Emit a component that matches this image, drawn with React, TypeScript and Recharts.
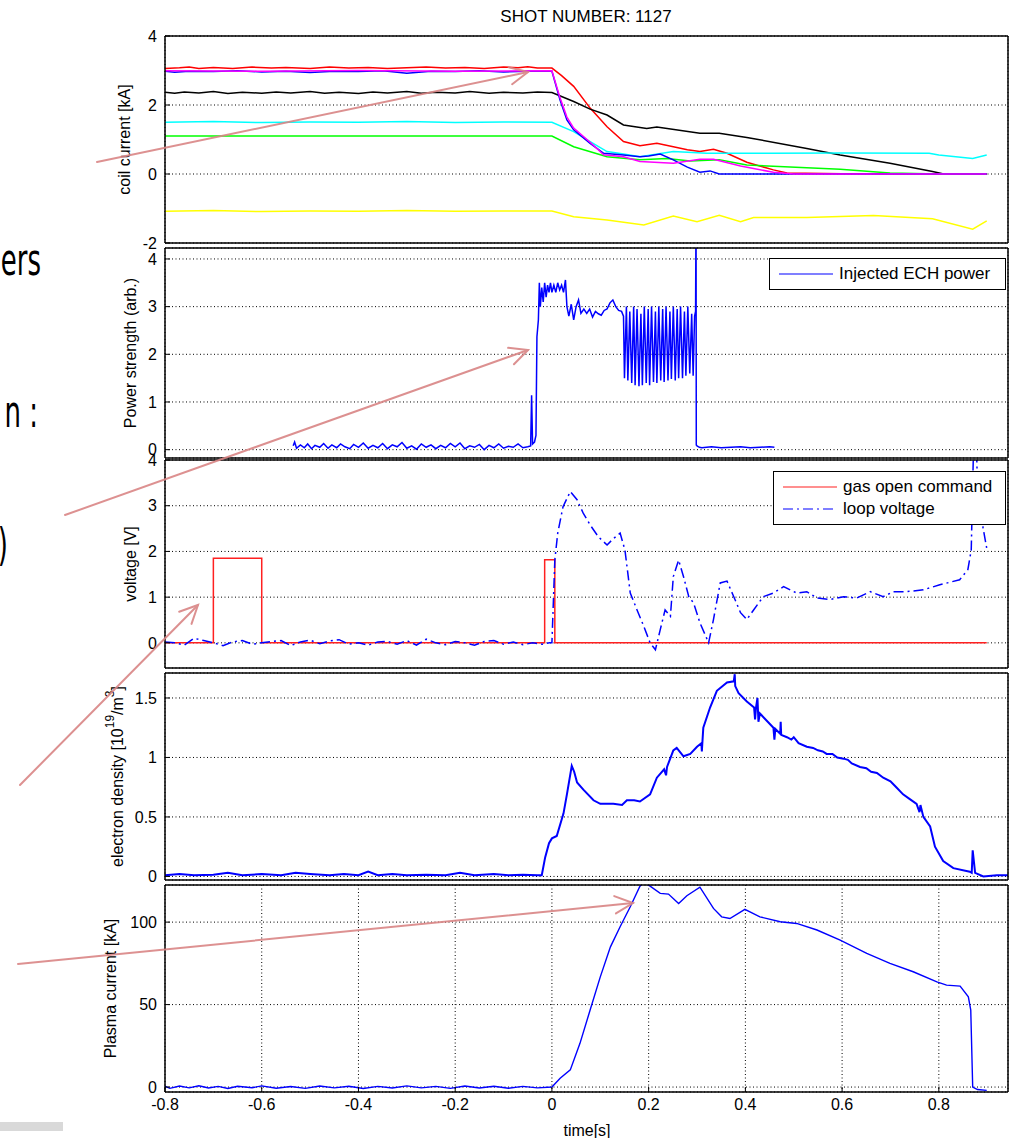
import React from 'react';
import { LineChart, Line, XAxis, YAxis, CartesianGrid, Legend } from 'recharts';

type Pt = [number, number];

// shared time axis
const TIME_TICKS = [-0.8, -0.6, -0.4, -0.2, 0, 0.2, 0.4, 0.6, 0.8];
const TIME_DOMAIN = [-0.8, 0.943];

const COIL_TICKS = [-2, 0, 2, 4];
const POWER_TICKS = [0, 1, 2, 3, 4];
const VOLT_TICKS = [0, 1, 2, 3, 4];
const DENSITY_TICKS = [0, 0.5, 1, 1.5];
const IP_TICKS = [0, 50, 100];

// coil currents [s, kA]
const COIL_RED: Pt[] = [
  [-0.8, 3.06], [-0.77, 3.08], [-0.75, 3.1], [-0.73, 3.06], [-0.7, 3.09], [-0.66, 3.06], [-0.62, 3.1],
  [-0.58, 3.07], [-0.55, 3.09], [-0.5, 3.06], [-0.46, 3.1], [-0.42, 3.07], [-0.38, 3.09], [-0.34, 3.06],
  [-0.3, 3.08], [-0.26, 3.1], [-0.22, 3.07], [-0.18, 3.09], [-0.14, 3.06], [-0.1, 3.1], [-0.07, 3.08],
  [-0.05, 3.11], [-0.03, 3.07], [0, 3.07], [0.02, 2.85], [0.045, 2.54], [0.079, 1.91], [0.114, 1.37],
  [0.148, 0.94], [0.182, 0.82], [0.217, 0.89], [0.251, 0.79], [0.28, 0.7], [0.306, 0.65], [0.334, 0.72],
  [0.362, 0.6], [0.403, 0.34], [0.458, 0.12], [0.486, 0.03], [0.6, 0.01], [0.75, 0], [0.899, 0],
];
const COIL_BLACK: Pt[] = [
  [-0.8, 2.37], [-0.78, 2.34], [-0.76, 2.38], [-0.73, 2.35], [-0.7, 2.39], [-0.67, 2.33], [-0.64, 2.37],
  [-0.6, 2.34], [-0.57, 2.38], [-0.54, 2.35], [-0.5, 2.39], [-0.47, 2.34], [-0.44, 2.37], [-0.4, 2.33],
  [-0.37, 2.38], [-0.34, 2.35], [-0.3, 2.39], [-0.27, 2.34], [-0.24, 2.37], [-0.2, 2.35], [-0.17, 2.39],
  [-0.13, 2.34], [-0.1, 2.37], [-0.06, 2.35], [-0.03, 2.38], [0, 2.36], [0.045, 2.1], [0.079, 1.88],
  [0.114, 1.71], [0.148, 1.42], [0.196, 1.32], [0.217, 1.36], [0.306, 1.18], [0.346, 1.18], [0.403, 1.06],
  [0.527, 0.74], [0.596, 0.55], [0.699, 0.31], [0.787, 0.07], [0.81, 0], [0.899, 0],
];
const COIL_CYAN: Pt[] = [
  [-0.8, 1.5], [-0.7, 1.52], [-0.6, 1.49], [-0.5, 1.51], [-0.4, 1.5], [-0.3, 1.52], [-0.2, 1.49],
  [-0.1, 1.51], [0, 1.5], [0.045, 1.23], [0.079, 0.94], [0.114, 0.65], [0.148, 0.58], [0.182, 0.5],
  [0.251, 0.65], [0.32, 0.6], [0.45, 0.6], [0.6, 0.61], [0.78, 0.6], [0.8, 0.55], [0.87, 0.45], [0.899, 0.55],
];
const COIL_GREEN: Pt[] = [
  [-0.8, 1.1], [0, 1.1], [0.045, 0.79], [0.114, 0.5], [0.182, 0.41], [0.238, 0.45], [0.286, 0.38],
  [0.346, 0.41], [0.403, 0.26], [0.527, 0.18], [0.596, 0.14], [0.699, 0.03], [0.8, 0], [0.899, 0],
];
const COIL_YELLOW: Pt[] = [
  [-0.8, -1.08], [-0.7, -1.06], [-0.6, -1.09], [-0.5, -1.07], [-0.4, -1.08], [-0.3, -1.06], [-0.2, -1.08],
  [-0.1, -1.07], [0, -1.07], [0.045, -1.24], [0.114, -1.33], [0.19, -1.48], [0.251, -1.22], [0.3, -1.38],
  [0.346, -1.2], [0.39, -1.38], [0.417, -1.26], [0.527, -1.26], [0.665, -1.2], [0.787, -1.3], [0.87, -1.6],
  [0.899, -1.36],
];
const COIL_BLUE: Pt[] = [
  [-0.8, 2.98], [-0.78, 2.95], [-0.75, 2.98], [-0.7, 2.97], [-0.65, 2.99], [-0.6, 2.96], [-0.55, 2.98],
  [-0.5, 2.94], [-0.45, 2.98], [-0.4, 2.97], [-0.35, 2.99], [-0.3, 2.92], [-0.25, 2.98], [-0.2, 2.97],
  [-0.15, 2.99], [-0.1, 2.96], [-0.05, 2.98], [0, 2.98], [0.017, 2.14], [0.031, 1.57], [0.045, 1.28],
  [0.079, 0.89], [0.107, 0.6], [0.148, 0.55], [0.182, 0.5], [0.2, 0.52], [0.224, 0.58], [0.251, 0.41],
  [0.28, 0.2], [0.306, 0.05], [0.327, 0.09], [0.346, 0], [0.5, 0], [0.7, 0], [0.899, 0],
];
const COIL_MAGENTA: Pt[] = [
  [-0.8, 2.99], [-0.6, 2.98], [-0.4, 3.0], [-0.2, 2.98], [0, 2.99], [0.017, 2.2], [0.031, 1.65],
  [0.045, 1.33], [0.079, 0.92], [0.107, 0.56], [0.148, 0.5], [0.182, 0.36], [0.251, 0.31], [0.306, 0.43],
  [0.334, 0.43], [0.39, 0.23], [0.458, 0.05], [0.5, 0], [0.7, 0], [0.899, 0],
];

// injected ECH power [s, arb.]
const ECH_POWER: Pt[] = [
  [-0.535, 0.08], [-0.532, 0.16], [-0.528, 0.03], [-0.52, 0.1], [-0.512, 0.04], [-0.505, 0.12], [-0.497, 0.02],
  [-0.49, 0.09], [-0.48, 0.05], [-0.472, 0.13], [-0.463, 0.03], [-0.455, 0.1], [-0.445, 0.04], [-0.437, 0.12],
  [-0.428, 0.06], [-0.418, 0.02], [-0.41, 0.11], [-0.4, 0.05], [-0.39, 0.14], [-0.38, 0.03], [-0.37, 0.09],
  [-0.36, 0.04], [-0.35, 0.13], [-0.34, 0.02], [-0.33, 0.1], [-0.32, 0.06], [-0.31, 0.15], [-0.3, 0.03],
  [-0.29, 0.08], [-0.28, 0.01], [-0.27, 0.12], [-0.26, 0.05], [-0.25, 0.1], [-0.24, 0.02], [-0.23, 0.09],
  [-0.22, 0.04], [-0.21, 0.13], [-0.2, 0.06], [-0.19, 0.14], [-0.18, 0.02], [-0.17, 0.08], [-0.16, 0.05],
  [-0.15, 0.11], [-0.14, 0.0], [-0.13, 0.09], [-0.12, 0.04], [-0.11, 0.12], [-0.1, 0.03], [-0.09, 0.07],
  [-0.08, 0.05], [-0.07, 0.12], [-0.06, 0.04], [-0.05, 0.06], [-0.044, 0.08], [-0.042, 1.14], [-0.04, 0.12],
  [-0.036, 0.16], [-0.033, 0.3], [-0.031, 2.37], [-0.028, 2.72], [-0.026, 3.5], [-0.024, 3.0], [-0.021, 3.4],
  [-0.018, 3.1], [-0.015, 3.5], [-0.012, 3.2], [-0.009, 3.45], [-0.006, 3.3], [-0.003, 3.5], [0.0, 3.3],
  [0.004, 3.45], [0.008, 3.3], [0.012, 3.5], [0.016, 3.35], [0.02, 3.45], [0.024, 3.3], [0.028, 3.56],
  [0.031, 3.0], [0.035, 2.8], [0.04, 3.05], [0.045, 2.72], [0.05, 3.0], [0.055, 3.14], [0.06, 2.86],
  [0.066, 2.95], [0.072, 2.86], [0.078, 2.95], [0.084, 2.78], [0.09, 2.9], [0.096, 2.85], [0.102, 2.82],
  [0.108, 2.92], [0.114, 2.95], [0.12, 3.08], [0.126, 3.14], [0.132, 3.0], [0.138, 2.92], [0.144, 2.9],
  [0.148, 2.8], [0.15, 1.5], [0.154, 3.0], [0.157, 1.45], [0.161, 2.9], [0.165, 1.4], [0.169, 3.0],
  [0.172, 1.35], [0.176, 2.95], [0.18, 1.33], [0.184, 2.85], [0.187, 1.35], [0.191, 3.0], [0.195, 1.4],
  [0.199, 2.95], [0.202, 1.35], [0.206, 3.0], [0.21, 1.42], [0.214, 2.9], [0.217, 1.4], [0.221, 3.0],
  [0.225, 1.45], [0.229, 2.95], [0.232, 1.42], [0.236, 3.0], [0.24, 1.45], [0.244, 2.9], [0.247, 1.48],
  [0.251, 3.0], [0.255, 1.45], [0.259, 2.95], [0.262, 1.5], [0.266, 3.0], [0.27, 1.5], [0.274, 2.9],
  [0.277, 1.55], [0.281, 3.0], [0.285, 1.6], [0.289, 2.85], [0.292, 1.55], [0.295, 2.8], [0.297, 2.9],
  [0.298, 5.0], [0.2985, 0.1], [0.3, 0.08], [0.305, 0.05], [0.31, 0.04], [0.33, 0.06], [0.35, 0.04],
  [0.37, 0.05], [0.39, 0.06], [0.41, 0.04], [0.43, 0.05], [0.45, 0.06], [0.46, 0.05],
];

// gas puff command and loop voltage [s, V]
const GAS_CMD: Pt[] = [
  [-0.8, 0], [-0.7, 0], [-0.7, 1.85], [-0.6, 1.85], [-0.6, 0], [-0.015, 0], [-0.015, 1.82], [0.006, 1.82],
  [0.006, 0], [0.899, 0],
];
const LOOP_V: Pt[] = [
  [-0.8, 0.02], [-0.78, 0.0], [-0.76, -0.05], [-0.74, 0.1], [-0.72, 0.05], [-0.7, 0.0], [-0.68, -0.06],
  [-0.66, 0.02], [-0.64, 0.05], [-0.62, -0.03], [-0.6, 0.0], [-0.58, 0.03], [-0.56, 0.05], [-0.54, -0.06],
  [-0.52, 0.02], [-0.5, 0.06], [-0.48, -0.02], [-0.46, 0.04], [-0.44, 0.07], [-0.42, -0.03], [-0.4, 0.0],
  [-0.38, -0.05], [-0.36, 0.02], [-0.34, 0.03], [-0.32, -0.03], [-0.3, 0.05], [-0.28, -0.05], [-0.26, 0.08],
  [-0.24, 0.0], [-0.22, -0.04], [-0.2, 0.03], [-0.18, 0.0], [-0.16, -0.05], [-0.14, 0.03], [-0.12, 0.05],
  [-0.1, -0.03], [-0.08, 0.02], [-0.06, -0.04], [-0.04, 0.0], [-0.02, -0.03], [-0.005, 0.0], [0.0, 0.0],
  [0.006, 1.81], [0.012, 2.4], [0.023, 2.98], [0.038, 3.31], [0.052, 3.13], [0.065, 2.83], [0.079, 2.58],
  [0.096, 2.32], [0.114, 2.14], [0.127, 2.28], [0.141, 2.4], [0.151, 2.03], [0.162, 1.09], [0.176, 0.72],
  [0.19, 0.36], [0.203, 0.0], [0.214, -0.15], [0.224, 0.29], [0.234, 0.72], [0.245, 0.58], [0.251, 1.45],
  [0.262, 1.81], [0.272, 1.45], [0.283, 1.01], [0.293, 0.87], [0.306, 0.44], [0.324, 0.0], [0.334, 0.51],
  [0.348, 1.31], [0.362, 1.35], [0.376, 1.01], [0.39, 0.66], [0.403, 0.51], [0.417, 0.72], [0.437, 1.01],
  [0.458, 1.09], [0.479, 1.23], [0.506, 1.09], [0.527, 1.12], [0.548, 0.98], [0.575, 0.95], [0.603, 1.01],
  [0.63, 0.98], [0.658, 1.12], [0.685, 1.01], [0.706, 1.12], [0.733, 1.12], [0.768, 1.16], [0.802, 1.27],
  [0.843, 1.38], [0.86, 1.6], [0.867, 2.03], [0.871, 3.93], [0.873, 4.6], [0.877, 4.6], [0.879, 3.79],
  [0.891, 2.54], [0.899, 2.07],
];

// line-averaged electron density [s, 1e19 m^-3]
const DENSITY: Pt[] = [
  [-0.8, 0.01], [-0.77, 0.02], [-0.74, 0.01], [-0.7, 0.015], [-0.67, 0.03], [-0.64, 0.01], [-0.6, 0.02],
  [-0.56, 0.01], [-0.53, 0.03], [-0.5, 0.02], [-0.46, 0.01], [-0.43, 0.02], [-0.4, 0.01], [-0.38, 0.04],
  [-0.36, 0.01], [-0.33, 0.02], [-0.3, 0.01], [-0.26, 0.015], [-0.22, 0.01], [-0.19, 0.03], [-0.16, 0.01],
  [-0.12, 0.02], [-0.09, 0.01], [-0.06, 0.015], [-0.03, 0.01], [-0.021, 0.01], [-0.014, 0.16], [-0.006, 0.28],
  [0.0, 0.32], [0.01, 0.34], [0.024, 0.53], [0.031, 0.69], [0.041, 0.93], [0.046, 0.88], [0.052, 0.79],
  [0.065, 0.73], [0.086, 0.64], [0.1, 0.61], [0.127, 0.61], [0.145, 0.6], [0.155, 0.64], [0.17, 0.64],
  [0.182, 0.63], [0.203, 0.69], [0.217, 0.83], [0.232, 0.9], [0.236, 0.85], [0.238, 0.92], [0.251, 1.06],
  [0.258, 1.08], [0.272, 1.01], [0.286, 1.03], [0.3, 1.09], [0.309, 1.12], [0.31, 1.05], [0.311, 1.12],
  [0.313, 1.25], [0.327, 1.42], [0.341, 1.56], [0.362, 1.63], [0.376, 1.64], [0.378, 1.7], [0.379, 1.6],
  [0.386, 1.54], [0.403, 1.47], [0.418, 1.42], [0.42, 1.32], [0.422, 1.42], [0.425, 1.5], [0.427, 1.3],
  [0.43, 1.37], [0.458, 1.25], [0.46, 1.15], [0.462, 1.24], [0.472, 1.2], [0.473, 1.3], [0.474, 1.19],
  [0.486, 1.17], [0.495, 1.15], [0.5, 1.17], [0.51, 1.12], [0.527, 1.09], [0.54, 1.08], [0.55, 1.06],
  [0.56, 1.05], [0.568, 1.03], [0.58, 1.03], [0.59, 1.0], [0.603, 0.99], [0.612, 0.98], [0.62, 0.95],
  [0.637, 0.92], [0.65, 0.91], [0.66, 0.88], [0.672, 0.87], [0.685, 0.83], [0.7, 0.8], [0.712, 0.75],
  [0.726, 0.69], [0.74, 0.65], [0.754, 0.61], [0.76, 0.54], [0.762, 0.6], [0.768, 0.5], [0.782, 0.42],
  [0.792, 0.25], [0.809, 0.13], [0.83, 0.07], [0.864, 0.04], [0.868, 0.03], [0.87, 0.22], [0.875, 0.03],
  [0.892, 0.0], [0.92, 0.01], [0.943, 0.01],
];

// plasma current [s, kA]
const PLASMA_I: Pt[] = [
  [-0.8, 0.5], [-0.79, -0.8], [-0.77, 0.6], [-0.75, -0.5], [-0.73, 0.8], [-0.71, -0.6], [-0.69, 0.4],
  [-0.67, -0.9], [-0.65, 0.5], [-0.62, -0.4], [-0.6, 0.7], [-0.57, -0.7], [-0.54, 0.3], [-0.51, -0.8],
  [-0.48, 0.6], [-0.45, -0.5], [-0.42, 0.5], [-0.39, -0.9], [-0.36, 0.4], [-0.33, -0.6], [-0.3, 0.7],
  [-0.27, -0.5], [-0.24, 0.4], [-0.21, -0.8], [-0.18, 0.6], [-0.15, -0.6], [-0.12, 0.5], [-0.09, -0.7],
  [-0.06, 0.4], [-0.03, -0.5], [0.0, 0], [0.017, 5.3], [0.038, 10.4], [0.058, 26.5], [0.079, 46.7],
  [0.1, 66.8], [0.121, 85], [0.141, 97.2], [0.162, 109.3], [0.182, 121.8], [0.19, 124], [0.203, 121.8],
  [0.224, 117.4], [0.241, 117], [0.262, 111.3], [0.279, 116], [0.306, 121.2], [0.334, 108.3], [0.351, 103.2],
  [0.368, 102.2], [0.399, 107.7], [0.43, 103.2], [0.472, 100.2], [0.506, 99.2], [0.548, 95.2], [0.596, 89.1],
  [0.651, 81], [0.699, 75], [0.747, 69.9], [0.796, 63.8], [0.816, 61.8], [0.844, 61.2], [0.861, 54.7],
  [0.866, 46.7], [0.87, 0], [0.88, -1.5], [0.899, -2],
];

// slide annotations drawn over the figure
const SLIDE_ARROWS = [
  [97, 162, 528, 72],
  [65, 515, 528, 350],
  [20, 785, 198, 605],
  [18, 964, 633, 903],
];

const FONT = '"Liberation Sans", Arial, Helvetica, sans-serif';
const W = 1010;

const pts = (a: Pt[]) => a.map(([t, v]) => ({ t, v }));

type Series = { name: string; data: Pt[]; color: string; width?: number; dash?: string };

function LegendBox({ payload }: any) {
  return (
    <div style={{ border: '1.5px solid #000', background: '#fff', padding: '4px 8px 4px 9px', fontFamily: FONT }}>
      {(payload || []).map((e: any) => (
        <div key={e.value} style={{ display: 'flex', alignItems: 'center', height: 22 }}>
          <svg width={54} height={10}>
            <line x1={0} y1={5} x2={54} y2={5} stroke={e.color} strokeWidth={1.2}
              strokeDasharray={e.payload?.strokeDasharray} />
          </svg>
          <span style={{ marginLeft: 6, fontSize: 17, color: '#000' }}>{e.value}</span>
        </div>
      ))}
    </div>
  );
}

type PanelProps = {
  chartTop: number;
  chartBottom: number;
  plotTop: number;
  plotBottom: number;
  domain: number[];
  ticks: number[];
  series: Series[];
  yTitle: React.ReactNode;
  yTitleX: number;
  legendAt?: { left: number; top: number; width: number };
  timeAxis?: boolean;
  heading?: string;
};

function Panel(p: PanelProps) {
  const bottomH = p.timeAxis ? 40 : 1;
  const height = p.chartBottom - p.chartTop;
  const margin = {
    top: p.plotTop - p.chartTop - 1,
    bottom: p.chartBottom - p.plotBottom - bottomH,
    left: 105,
    right: 1,
  };
  const cy = (p.plotTop + p.plotBottom) / 2 - p.chartTop;
  const axisLine = { stroke: '#000', strokeWidth: 1.5 };
  const tickLine = { stroke: '#000', strokeWidth: 1 };
  const tickFont = { fill: '#000', fontSize: 16, fontFamily: FONT };

  return (
    <div style={{ position: 'absolute', left: 0, top: p.chartTop }}>
      <LineChart width={W} height={height} margin={margin}>
        <CartesianGrid xAxisId="b" yAxisId="l" stroke="#000" strokeDasharray="1 2.5" />
        <XAxis
          xAxisId="b" dataKey="t" type="number" domain={TIME_DOMAIN} ticks={TIME_TICKS} interval={0}
          allowDataOverflow height={bottomH} tickSize={-5} tickMargin={12}
          axisLine={axisLine} tickLine={tickLine} tick={p.timeAxis ? tickFont : false}
          label={p.timeAxis ? {
            content: () => (
              <text x={587} y={1130 - p.chartTop} textAnchor="middle" dominantBaseline="central"
                fontSize={16} fontFamily={FONT} fill="#000">time[s]</text>
            ),
          } : undefined}
        />
        <XAxis
          xAxisId="t" orientation="top" dataKey="t" type="number" domain={TIME_DOMAIN} ticks={TIME_TICKS}
          interval={0} allowDataOverflow height={1} tickSize={-5} axisLine={axisLine} tickLine={tickLine}
          tick={false}
          label={p.heading ? {
            content: () => (
              <text x={586} y={16 - p.chartTop} textAnchor="middle" dominantBaseline="central"
                fontSize={17} fontFamily={FONT} fill="#000">{p.heading}</text>
            ),
          } : undefined}
        />
        <YAxis
          yAxisId="l" type="number" domain={p.domain} ticks={p.ticks} interval={0} allowDataOverflow
          width={60} tickSize={-5} tickMargin={13} axisLine={axisLine} tickLine={tickLine} tick={tickFont}
          label={{
            content: () => (
              <text x={p.yTitleX} y={cy} transform={`rotate(-90 ${p.yTitleX} ${cy})`} textAnchor="middle"
                dominantBaseline="central" fontSize={16} fontFamily={FONT} fill="#000">{p.yTitle}</text>
            ),
          }}
        />
        <YAxis
          yAxisId="r" orientation="right" type="number" domain={p.domain} ticks={p.ticks} interval={0}
          allowDataOverflow width={1} tickSize={-5} axisLine={axisLine} tickLine={tickLine} tick={false}
        />
        {p.series.map((s) => (
          <Line
            key={s.name}
            xAxisId="b"
            yAxisId="l"
            data={pts(s.data)}
            dataKey="v"
            name={s.name}
            type="linear"
            stroke={s.color}
            strokeWidth={s.width ?? 1.5}
            strokeDasharray={s.dash}
            dot={false}
            activeDot={false}
            isAnimationActive={false}
          />
        ))}
        {p.legendAt && (
          <Legend
            layout="horizontal"
            verticalAlign="middle"
            align="center"
            content={<LegendBox />}
            wrapperStyle={{ position: 'absolute', left: p.legendAt.left, top: p.legendAt.top, width: p.legendAt.width }}
          />
        )}
      </LineChart>
    </div>
  );
}

function Arrow({ x1, y1, x2, y2 }: { x1: number; y1: number; x2: number; y2: number }) {
  const a = Math.atan2(y2 - y1, x2 - x1);
  const len = 20;
  const spread = 0.45;
  const h1 = `${x2 - len * Math.cos(a - spread)},${y2 - len * Math.sin(a - spread)}`;
  const h2 = `${x2 - len * Math.cos(a + spread)},${y2 - len * Math.sin(a + spread)}`;
  return (
    <g stroke="#d98585" strokeWidth={2} fill="none" strokeLinecap="round" opacity={0.9}>
      <line x1={x1} y1={y1} x2={x2} y2={y2} />
      <polyline points={`${h1} ${x2},${y2} ${h2}`} />
    </g>
  );
}

const SLIDE_FONT = '"DejaVu Sans", "Noto Sans", sans-serif';

export default function App() {
  return (
    <div style={{ position: 'absolute', left: 0, top: 0, width: W, height: 1138, background: '#fff', overflow: 'hidden', fontFamily: FONT }}>
      <Panel
        chartTop={0} chartBottom={257} plotTop={36} plotBottom={243}
        domain={[-2, 4]} ticks={COIL_TICKS} heading="SHOT NUMBER: 1127"
        yTitle="coil current [kA]" yTitleX={124}
        series={[
          { name: 'coil red', data: COIL_RED, color: '#ff0000' },
          { name: 'coil black', data: COIL_BLACK, color: '#000000' },
          { name: 'coil cyan', data: COIL_CYAN, color: '#00ffff' },
          { name: 'coil green', data: COIL_GREEN, color: '#00ff00' },
          { name: 'coil yellow', data: COIL_YELLOW, color: '#ffff00' },
          { name: 'coil blue', data: COIL_BLUE, color: '#0000ff' },
          { name: 'coil magenta', data: COIL_MAGENTA, color: '#ff00ff' },
        ]}
      />
      <Panel
        chartTop={234} chartBottom={472} plotTop={248} plotBottom={458}
        domain={[-0.175, 4.23]} ticks={POWER_TICKS}
        yTitle="Power strength (arb.)" yTitleX={130}
        legendAt={{ left: 769, top: 24, width: 237 }}
        series={[{ name: 'Injected ECH power', data: ECH_POWER, color: '#0000ff' }]}
      />
      <Panel
        chartTop={446} chartBottom={682} plotTop={460} plotBottom={668}
        domain={[-0.55, 4]} ticks={VOLT_TICKS}
        yTitle="voltage [V]" yTitleX={130}
        legendAt={{ left: 773, top: 25, width: 233 }}
        series={[
          { name: 'gas open command', data: GAS_CMD, color: '#ff2020' },
          { name: 'loop voltage', data: LOOP_V, color: '#0000ff', dash: '10 4 2 4' },
        ]}
      />
      <Panel
        chartTop={659} chartBottom={894} plotTop={673} plotBottom={880}
        domain={[-0.03, 1.71]} ticks={DENSITY_TICKS}
        yTitle={
          <>
            electron density [10<tspan dy={-7} fontSize={12}>19</tspan>
            <tspan dy={7}>/m</tspan><tspan dy={-7} fontSize={12}>3</tspan><tspan dy={7}>]</tspan>
          </>
        }
        yTitleX={117}
        series={[{ name: 'electron density', data: DENSITY, color: '#0000ff', width: 2 }]}
      />
      <Panel
        chartTop={871} chartBottom={1138} plotTop={885} plotBottom={1092} timeAxis
        domain={[-3, 122.5]} ticks={IP_TICKS}
        yTitle="Plasma current [kA]" yTitleX={110}
        series={[{ name: 'plasma current', data: PLASMA_I, color: '#0000ff', width: 1.4 }]}
      />
      <svg width={W} height={1138} style={{ position: 'absolute', left: 0, top: 0, pointerEvents: 'none' }}>
        <g fontFamily={SLIDE_FONT} fontSize={26} fill="#000" textAnchor="end">
          <text transform="translate(41 275) scale(1 1.7)">ers</text>
          <text transform="translate(38 427) scale(1 1.7)">n :</text>
          <text transform="translate(8 560) scale(1 1.7)">)</text>
        </g>
        {SLIDE_ARROWS.map(([x1, y1, x2, y2], i) => (
          <Arrow key={i} x1={x1} y1={y1} x2={x2} y2={y2} />
        ))}
        <rect x={0} y={1122} width={63} height={9} fill="#d9d9d9" />
      </svg>
    </div>
  );
}
